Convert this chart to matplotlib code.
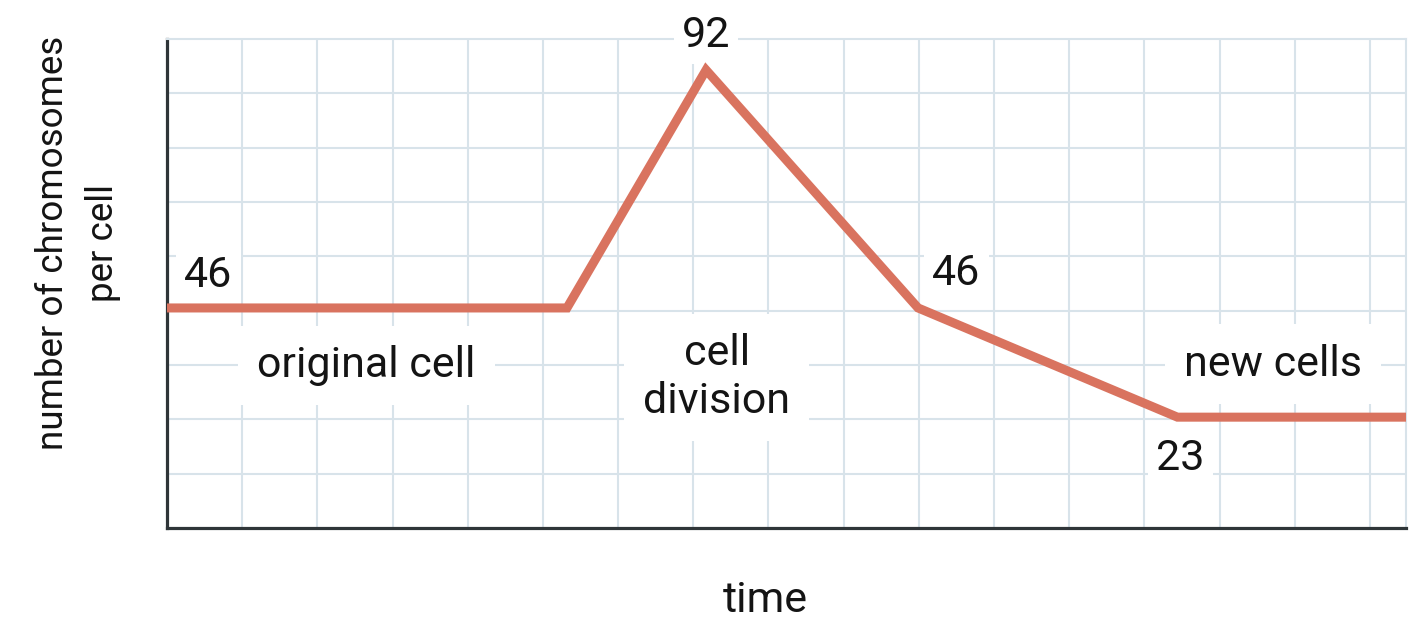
import matplotlib
matplotlib.use("Agg")
import matplotlib.pyplot as plt
import numpy as np

plt.rcParams['font.family'] = ['Roboto', 'DejaVu Sans']

# data (in grid units)
time_pts = [0.0, 5.32, 7.17, 9.99, 13.44, 16.48]
level_pts = [4.05, 4.05, 8.43, 4.05, 2.04, 2.04]
value_labels = ["46", "92", "46", "23"]
value_label_pos = [(0.55, 4.44), (7.17, 8.85), (10.5, 4.47), (13.48, 1.07)]
phase_labels = ["original cell", "cell\ndivision", "new cells"]
phase_label_pos = [(2.65, 2.78), (7.31, 2.12), (14.71, 2.80)]
x_max = 16.48
y_max = 9

LINE_C = '#D9735F'
GRID_C = '#D8E3EA'
AX_C = '#2f3538'
TXT_C = '#141414'

fig = plt.figure(figsize=(14.14, 6.21), dpi=100)
ax = fig.add_axes([167/1414, 1 - 528/621, (1406-167)/1414, (528-39)/621])
ax.set_xlim(0, x_max)
ax.set_ylim(0, y_max)
ax.set_xticks(np.arange(1, 17))
ax.set_yticks(np.arange(1, 9))
ax.set_xticklabels([])
ax.set_yticklabels([])
ax.tick_params(length=0)
ax.set_axisbelow(True)
ax.grid(True, color=GRID_C, lw=1.5)
for s in ['left', 'bottom']:
    ax.spines[s].set_color(AX_C)
    ax.spines[s].set_linewidth(2.3)
for s in ['top', 'right']:
    ax.spines[s].set_color(GRID_C)
    ax.spines[s].set_linewidth(1.5)

ax.plot(time_pts, level_pts, color=LINE_C, lw=6.5, solid_joinstyle='miter',
        solid_capstyle='butt', zorder=5)

box = dict(facecolor='white', edgecolor='none', pad=6)
for t, (x, y) in zip(value_labels, value_label_pos):
    ax.text(x, y, t, fontsize=31, ha='center', va='baseline', color=TXT_C,
            bbox=box, zorder=4, clip_on=False)

for t, (x, y) in zip(phase_labels, phase_label_pos):
    ax.text(x, y, t, fontsize=31, ha='center', va='baseline', color=TXT_C,
            multialignment='center', linespacing=1.2,
            bbox=dict(facecolor='white', edgecolor='none', pad=14), zorder=4)

fig.text(765/1414, 1 - 612/621, "time", fontsize=31, ha='center', va='baseline',
         color=TXT_C)
fig.text(78/1414, 1 - 243/621, "number of chromosomes\nper cell", fontsize=26.5,
         rotation=90, ha='center', va='center', multialignment='center',
         linespacing=1.5, color=TXT_C)

fig.savefig("out.png", dpi=100, facecolor='white')
